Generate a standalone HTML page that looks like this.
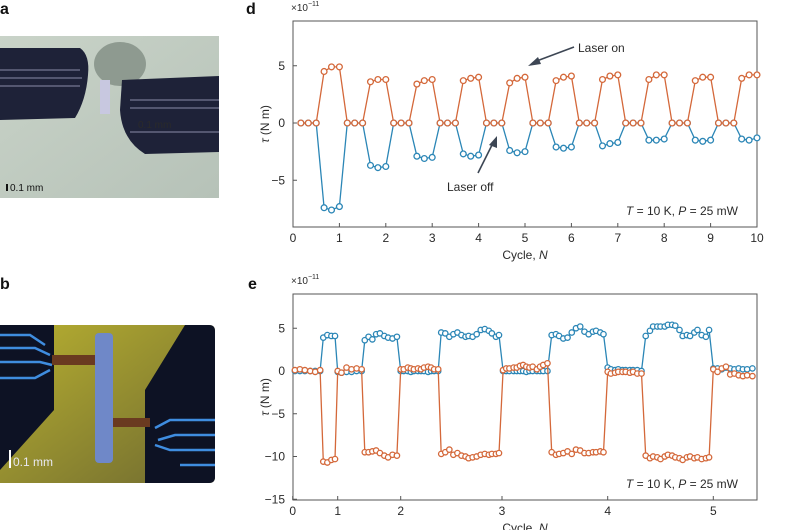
<!DOCTYPE html>
<html><head><meta charset="utf-8"><style>
body{margin:0;background:#fff;width:800px;height:530px;overflow:hidden;font-family:"Liberation Sans",sans-serif}
svg{position:absolute;left:0;top:0}
text{font-family:"Liberation Sans",sans-serif;fill:#2a2a2a}
</style></head><body>
<svg width="800" height="530" viewBox="0 0 800 530">
<defs>
<linearGradient id="ga" x1="0" y1="0" x2="1" y2="1"><stop offset="0" stop-color="#c9d3c8"/><stop offset="1" stop-color="#b6c2b8"/></linearGradient>
<linearGradient id="gb" x1="0" y1="0" x2="1" y2="1"><stop offset="0" stop-color="#b8b030"/><stop offset="1" stop-color="#6f6a30"/></linearGradient>
</defs>
<g>
<rect x="0" y="36" width="219" height="162" fill="url(#ga)"/>
<ellipse cx="120" cy="64" rx="26" ry="22" fill="#8e9a90"/>
<path d="M0 48 L80 48 Q90 55 88 75 Q86 100 75 118 L0 120 Z" fill="#1e2238"/>
<path d="M122 80 L219 76 L219 152 L145 154 Q122 140 120 110 Z" fill="#1e2238"/>
<g stroke="#8a8ca8" stroke-width="1"><line x1="0" y1="70" x2="80" y2="70"/><line x1="0" y1="78" x2="82" y2="78"/><line x1="0" y1="86" x2="80" y2="86"/><line x1="130" y1="100" x2="219" y2="100"/><line x1="130" y1="108" x2="219" y2="108"/><line x1="130" y1="132" x2="219" y2="132"/></g>
<rect x="100" y="80" width="10" height="34" fill="#c8c8e0"/>
<text x="138" y="128" font-size="10" fill="#222">0.1 mm</text>
<rect x="6" y="184" width="2" height="7" fill="#111"/>
<text x="10" y="191" font-size="10" style="fill:#111">0.1 mm</text>
</g>
<text x="0" y="14" font-size="16" font-weight="bold" style="fill:#111">a</text>
<text x="0" y="289" font-size="16" font-weight="bold" style="fill:#111">b</text>
<g>
<path d="M0 325 H209 Q215 325 215 331 V477 Q215 483 209 483 H0 Z" fill="url(#gb)"/>
<path d="M0 325 H54 V410 L0 470 Z" fill="#0d1224"/>
<path d="M185 325 H209 Q215 325 215 331 V477 Q215 483 209 483 H145 V390 Z" fill="#0d1224"/>
<g stroke="#3f8de0" stroke-width="2.5" fill="none"><path d="M0 335 H30 L45 345"/><path d="M0 348 H35 L50 355"/><path d="M0 362 H40 L52 365"/><path d="M0 378 H35 L50 370"/><path d="M215 420 H170 L155 428"/><path d="M215 435 H175 L158 440"/><path d="M215 450 H170 L155 445"/><path d="M215 465 H180"/></g>
<rect x="52" y="355" width="45" height="10" fill="#6a3a20"/>
<rect x="100" y="418" width="50" height="9" fill="#6a3a20"/>
<rect x="95" y="333" width="18" height="130" rx="4" fill="#6f88c8"/>
<rect x="9" y="450" width="2" height="18" fill="#fff"/>
<text x="13" y="466" font-size="12" style="fill:#e8e8f0">0.1 mm</text>
</g>
<text x="246" y="14" font-size="16" font-weight="bold" style="fill:#111">d</text>
<text x="248" y="289" font-size="16" font-weight="bold" style="fill:#111">e</text>
<g id="chartD"></g>
<g id="chartE"></g>
</svg>
<script>
const dX = [0.17,0.33,0.5,0.67,0.83,1.0,1.17,1.33,1.5,1.67,1.83,2.0,2.17,2.33,2.5,2.67,2.83,3.0,3.17,3.33,3.5,3.67,3.83,4.0,4.17,4.33,4.5,4.67,4.83,5.0,5.17,5.33,5.5,5.67,5.83,6.0,6.17,6.33,6.5,6.67,6.83,7.0,7.17,7.33,7.5,7.67,7.83,8.0,8.17,8.33,8.5,8.67,8.83,9.0,9.17,9.33,9.5,9.67,9.83,10.0];
const dOrange = [0,0,0,4.5,4.9,4.9,0,0,0,3.6,3.8,3.8,0,0,0,3.4,3.7,3.8,0,0,0,3.7,3.9,4.0,0,0,0,3.5,3.9,4.0,0,0,0,3.7,4.0,4.1,0,0,0,3.8,4.1,4.2,0,0,0,3.8,4.2,4.2,0,0,0,3.7,4.0,4.0,0,0,0,3.9,4.2,4.2];
const dBlue = [0,0,0,-7.4,-7.6,-7.3,0,0,0,-3.7,-3.9,-3.8,0,0,0,-2.9,-3.1,-3.0,0,0,0,-2.7,-2.9,-2.8,0,0,0,-2.4,-2.6,-2.5,0,0,0,-2.1,-2.2,-2.1,0,0,0,-2.0,-1.8,-1.7,0,0,0,-1.5,-1.5,-1.4,0,0,0,-1.5,-1.6,-1.5,0,0,0,-1.4,-1.5,-1.3];
const dXTicks = [0,1,2,3,4,5,6,7,8,9,10];
const dYTicks = [-5,0,5];
const eX = [0.05,0.16,0.27,0.39,0.50,0.61, 0.68,0.77,0.86,0.94,
 1.00,1.06,1.14,1.22,1.30,1.38, 1.43,1.49,1.55,1.61,1.67,1.74,1.80,1.87,1.94,
 2.00,2.03,2.07,2.10,2.13,2.17,2.20,2.23,2.27,2.30,2.33,2.37,
 2.40,2.44,2.48,2.52,2.56,2.60,2.64,2.67,2.71,2.75,2.79,2.83,2.87,2.90,2.94,2.97,
 3.01,3.04,3.07,3.11,3.14,3.17,3.20,3.23,3.26,3.29,3.33,3.36,3.39,3.43,
 3.47,3.51,3.54,3.58,3.62,3.66,3.70,3.74,3.78,3.82,3.86,3.89,3.93,3.96,
 4.00,4.03,4.07,4.10,4.14,4.17,4.21,4.24,4.28,4.32,
 4.36,4.40,4.43,4.47,4.50,4.54,4.57,4.61,4.64,4.68,4.71,4.75,4.78,4.82,4.85,4.89,4.93,4.96,
 5.00,5.04,5.08,5.12,5.16,5.20,5.24,5.28,5.32,5.37];
const eBlue = [0,0,0,0,0,0, 3.9,4.2,4.1,4.1,
 -0.1,-0.2,-0.1,-0.1,0,0, 3.6,4.0,3.7,4.3,4.4,4.1,3.9,3.8,4.0,
 0,0,0,-0.1,0,0,0,0,-0.1,0,0,0,
 4.5,4.4,4.0,4.3,4.5,4.2,4.0,4.1,4.0,4.3,4.8,4.9,4.7,4.4,4.0,4.2,
 0,0,0,0,0,0,0,-0.1,0,0,0,0,0,0,
 4.2,4.3,4.1,3.8,3.9,4.5,5.0,5.2,4.6,4.3,4.6,4.7,4.5,4.3,
 0.4,0.2,0.1,0.2,0.1,0.1,0.1,0.1,0.1,0,
 4.1,4.7,5.2,5.2,5.2,5.2,5.4,5.4,5.3,4.8,4.1,4.2,4.1,4.5,4.8,4.2,4.0,4.8,
 0.3,0.3,0.2,0.4,0.3,0.2,0.3,0.2,0.2,0.3];
const eOrange = [0.1,0.2,0.1,0,-0.1,0.1, -10.6,-10.7,-10.4,-10.3,
 0,-0.2,0.4,0.2,0.3,0.2, -9.5,-9.5,-9.4,-9.3,-9.6,-9.9,-10.1,-9.8,-9.9,
 0.2,0.2,0.4,0.3,0.2,0.3,0.2,0.4,0.5,0.4,0.2,0.2,
 -9.7,-9.5,-9.2,-9.8,-9.6,-9.9,-10.0,-10.2,-10.1,-10.0,-9.8,-9.7,-9.8,-9.7,-9.7,-9.6,
 0.1,0.3,0.3,0.4,0.4,0.6,0.7,0.5,0.4,0.5,0.2,0.5,0.7,0.9,
 -9.5,-9.8,-9.7,-9.6,-9.4,-9.7,-9.2,-9.3,-9.6,-9.6,-9.5,-9.5,-9.4,-9.5,
 -0.1,-0.3,-0.2,-0.1,-0.1,-0.1,-0.2,-0.1,-0.3,-0.3,
 -9.9,-10.2,-10.0,-10.1,-10.3,-10.0,-9.8,-9.9,-10.1,-10.2,-10.4,-10.1,-10.0,-10.2,-10.1,-10.3,-10.2,-10.1,
 0.2,-0.1,0.3,0.5,-0.4,-0.3,-0.5,-0.6,-0.5,-0.6];
const eXTicks = [0,1,2,3,4,5];
const eYTicks = [-15,-10,-5,0,5];

const NS='http://www.w3.org/2000/svg';
const OR='#d4683a', BL='#2b86b6';
function mk(parent,tag,attrs,txt){const e=document.createElementNS(NS,tag);for(const k in attrs)e.setAttribute(k,attrs[k]);if(txt!==undefined)e.textContent=txt;parent.appendChild(e);return e;}

function drawChart(g,o){
  const {xs,ys,xTicks,yTicks,series,x0,x1,y0,y1}=o;
  const box=mk(g,'rect',{x:x0,y:y0,width:x1-x0,height:y1-y0,fill:'none',stroke:'#555','stroke-width':1});
  
  
  xTicks.forEach(t=>{const px=xs(t);
    const l=mk(g,'line',{x1:px,y1:y1,x2:px,y2:y1-4,stroke:'#555'});
    
    
    const tx=mk(g,'text',{x:px,y:y1+15,'font-size':12,'text-anchor':'middle'},String(t));
    
    });
  yTicks.forEach(t=>{const py=ys(t);
    const l=mk(g,'line',{x1:x0,y1:py,x2:x0+4,y2:py,stroke:'#555'});
    
    
    const tx=mk(g,'text',{x:x0-8,y:py+4,'font-size':12,'text-anchor':'end'},t<0?'\u2212'+(-t):String(t));
    
    });
  const exp=mk(g,'text',{x:x0-2,y:y0-10,'font-size':10},'\u00d710');
  
  
  mk(exp,'tspan',{dy:-5,'font-size':7},'\u221211');
  const yt=mk(g,'text',{x:0,y:0,'font-size':12,'text-anchor':'middle',transform:`translate(${x0-24},${(y0+y1)/2}) rotate(-90)`},'');
  
  
  mk(yt,'tspan',{'font-style':'italic'},'\u03c4');mk(yt,'tspan',{},' (N m)');
  const xt=mk(g,'text',{x:(x0+x1)/2,y:y1+32,'font-size':12,'text-anchor':'middle'},'Cycle, ');
  
  
  mk(xt,'tspan',{'font-style':'italic'},'N');
  series.forEach(s=>{
    const sg=mk(g,'g',{});
    
    
    const pts=s.x.map((v,i)=>xs(v).toFixed(1)+','+ys(s.y[i]).toFixed(1)).join(' ');
    const pl=mk(sg,'polyline',{points:pts,fill:'none',stroke:s.c,'stroke-width':1.3});
    
    
    s.x.forEach((v,i)=>{const c=mk(sg,'circle',{cx:xs(v),cy:ys(s.y[i]),r:s.r,fill:'#fff',stroke:s.c,'stroke-width':1.3});
      
      });
  });
  const ann=mk(g,'text',{x:x1-19,y:y1-12,'font-size':12,'text-anchor':'end'},'');
  
  
  mk(ann,'tspan',{'font-style':'italic'},'T');mk(ann,'tspan',{},' = 10 K, ');mk(ann,'tspan',{'font-style':'italic'},'P');mk(ann,'tspan',{},' = 25 mW');
}

(function(){
  const x0=293,x1=757,y0=21,y1=227;
  const xs=v=>x0+(v-0)/(10-0)*(x1-x0);
  const ys=v=>123-v*11.45;
  const g=document.getElementById('chartD');
  drawChart(g,{xs,ys,xTicks:dXTicks,yTicks:dYTicks,x0,x1,y0,y1,
    series:[{name:'series-blue',x:dX,y:dBlue,c:BL,r:2.9},{name:'series-orange',x:dX,y:dOrange,c:OR,r:2.9}]});
  const a1=mk(g,'g',{});
  
  
  mk(a1,'line',{x1:574,y1:47,x2:534,y2:62,stroke:'#3d4654','stroke-width':1.6});
  mk(a1,'polygon',{points:'528,66 538,57 541,64',fill:'#3d4654'});
  mk(a1,'text',{x:578,y:52,'font-size':12},'Laser on');
  const a2=mk(g,'g',{});
  
  
  mk(a2,'line',{x1:478,y1:173,x2:493,y2:143,stroke:'#3d4654','stroke-width':1.6});
  mk(a2,'polygon',{points:'497,136 497,148 489,145',fill:'#3d4654'});
  mk(a2,'text',{x:447,y:191,'font-size':12},'Laser off');
})();

(function(){
  const x0=293,x1=757,y0=294,y1=500;
  const tickPx=[292.7,337.7,400.7,502,607.7,713.3];
  const xs=v=>{if(v>=5)return tickPx[5]+(v-5)*105.7;const i=Math.floor(v);return tickPx[i]+(v-i)*(tickPx[i+1]-tickPx[i]);};
  const ys=v=>371-v*8.55;
  const g=document.getElementById('chartE');
  drawChart(g,{xs,ys,xTicks:eXTicks,yTicks:eYTicks,x0,x1,y0,y1,
    series:[{name:'series-blue',x:eX,y:eBlue,c:BL,r:2.7},{name:'series-orange',x:eX,y:eOrange,c:OR,r:2.7}]});
})();
</script>
</body></html>
